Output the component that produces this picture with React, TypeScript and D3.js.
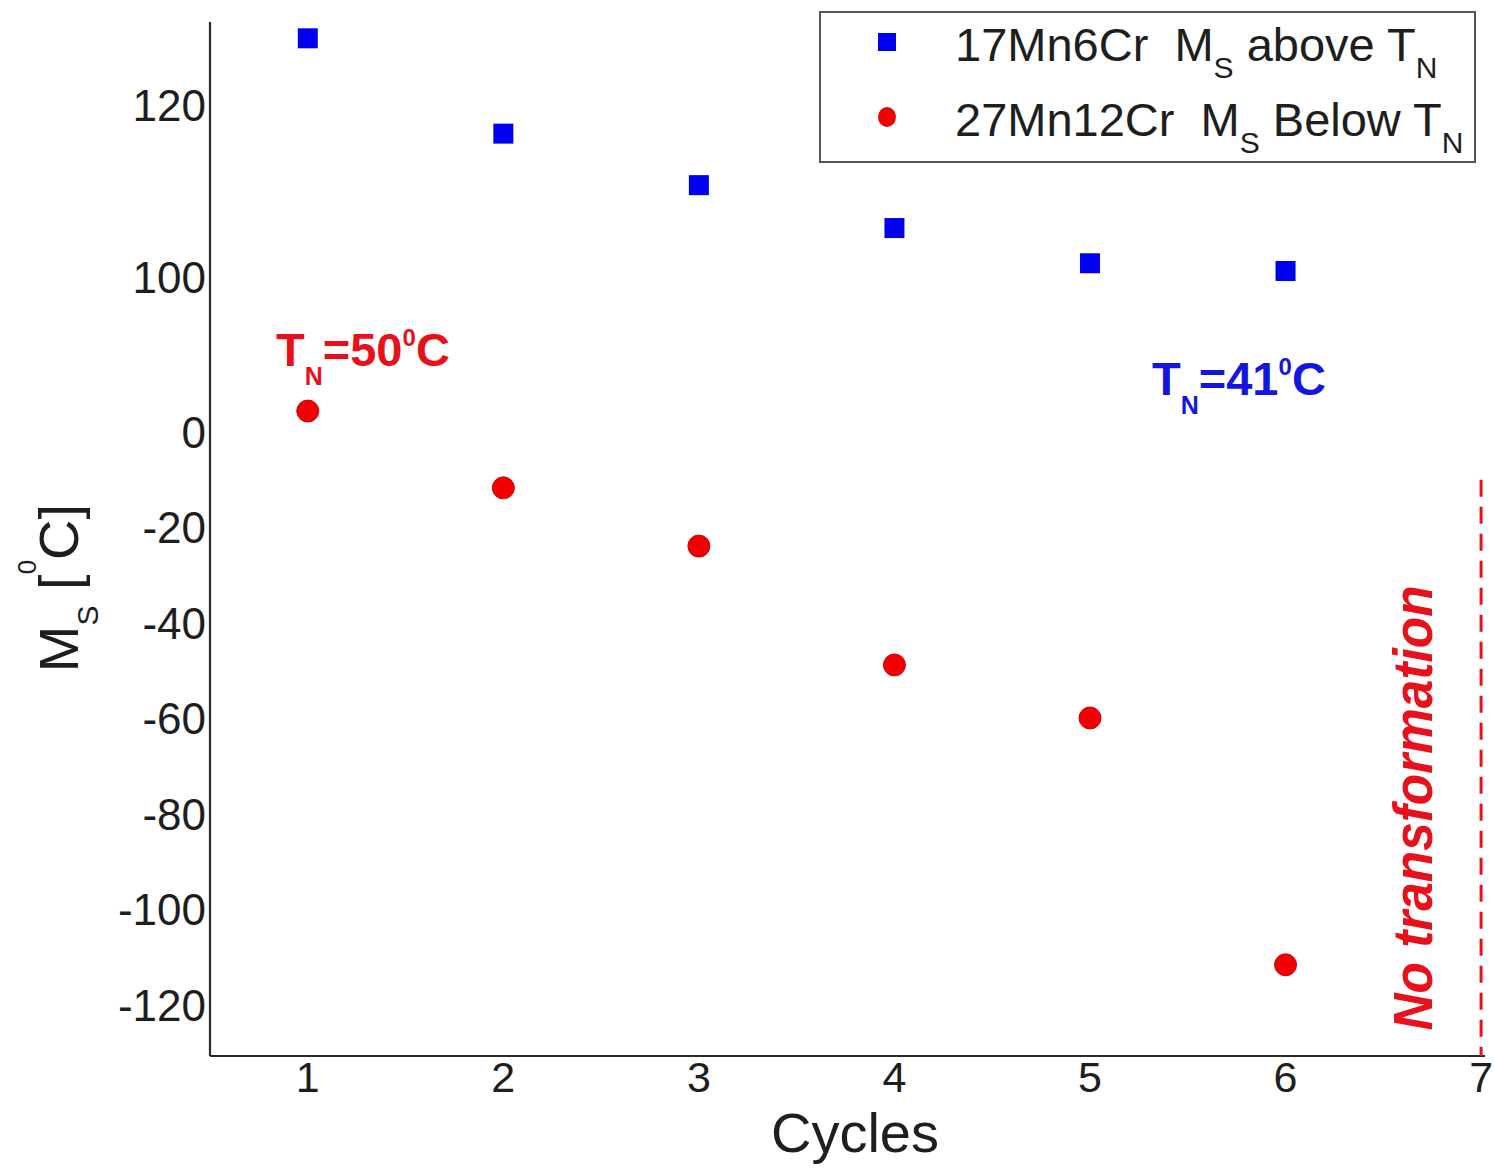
import React from "react";
import * as d3 from "d3";

// ---- data ----
const cycles = [1, 2, 3, 4, 5, 6];
const msAbove17Mn6Cr = [127.8, 116.7, 110.7, 105.7, 101.6, 100.7];
const msBelow27Mn12Cr = [13.5, -11.7, -23.9, -48.8, -59.9, -111.6];
const yTickValues = [120, 100, 0, -20, -40, -60, -80, -100, -120];
const xTickValues = [1, 2, 3, 4, 5, 6, 7];
const noTransformCycle = 7;
const noTransformTop = -10;
const legendLabels = ["17Mn6Cr", "27Mn12Cr"];

const W = 1494;
const H = 1170;
const FONT = "'Liberation Sans', Arial, Helvetica, sans-serif";
const AXIS = "#2a2a2a";

export default function App() {
  const x = d3.scaleLinear().domain([0.5, 7.02]).range([210, 1485]);
  // broken axis: piecewise linear
  const y = d3
    .scaleLinear()
    .domain([-130.7, 0, 100, 129.7])
    .range([1056, 432, 277, 22]);

  const [x0, x1] = x.range();
  const yBottom = y(-130.7);
  const yTop = y(129.7);

  return (
    <svg
      width={W}
      height={H}
      viewBox={`0 0 ${W} ${H}`}
      style={{ position: "absolute", left: 0, top: 0, background: "#fff" }}
      fontFamily={FONT}
    >
      <rect x={0} y={0} width={W} height={H} fill="#fff" />

      {/* axes */}
      <line x1={x0} x2={x0} y1={yTop} y2={yBottom} stroke={AXIS} strokeWidth={2.2} />
      <line x1={x0} x2={x1} y1={yBottom} y2={yBottom} stroke={AXIS} strokeWidth={2.2} />

      {/* y tick labels */}
      {yTickValues.map((v) => (
        <text
          key={"yt" + v}
          x={x0 - 4}
          y={y(v)}
          dy="0.36em"
          textAnchor="end"
          fontSize={44}
          fill="#1e1e1e"
        >
          {v}
        </text>
      ))}

      {/* x tick labels */}
      {xTickValues.map((v) => (
        <text
          key={"xt" + v}
          x={x(v)}
          y={1092}
          textAnchor="middle"
          fontSize={43}
          fill="#1e1e1e"
        >
          {v}
        </text>
      ))}

      {/* axis titles */}
      <text x={855} y={1152} textAnchor="middle" fontSize={56} fill="#1e1e1e">
        Cycles
      </text>
      <g transform="translate(78,588) rotate(-90)">
        <text textAnchor="middle" fontSize={56} fill="#1e1e1e">
          <tspan>M</tspan>
          <tspan fontSize={30} dy={20}>S</tspan>
          <tspan dy={-20}> [</tspan>
          <tspan fontSize={26} dy={-42}>0</tspan>
          <tspan dy={42}>C]</tspan>
        </text>
      </g>

      {/* no transformation dashed line */}
      <line
        x1={x(noTransformCycle)}
        x2={x(noTransformCycle)}
        y1={y(noTransformTop)}
        y2={yBottom}
        stroke="#e8101a"
        strokeWidth={3}
        strokeDasharray="17 10"
      />
      <g transform="translate(1432,808) rotate(-90)">
        <text
          textAnchor="middle"
          fontSize={56}
          fontWeight="bold"
          fontStyle="italic"
          fill="#e8101a"
          textLength={445}
          lengthAdjust="spacingAndGlyphs"
        >
          No transformation
        </text>
      </g>

      {/* series: squares */}
      {cycles.map((c, i) => (
        <rect
          key={"sq" + c}
          x={x(c) - 10}
          y={y(msAbove17Mn6Cr[i]) - 10}
          width={20}
          height={20}
          fill="#0000f0"
        />
      ))}
      {/* series: circles */}
      {cycles.map((c, i) => (
        <circle
          key={"ci" + c}
          cx={x(c)}
          cy={y(msBelow27Mn12Cr[i])}
          r={11}
          fill="#f00000"
          stroke="#d00010"
          strokeWidth={1}
        />
      ))}

      {/* annotations */}
      <text x={276} y={366} fontSize={47} fontWeight="bold" fill="#e8101a">
        <tspan>T</tspan>
        <tspan fontSize={25} dy={19}>N</tspan>
        <tspan dy={-19}>=50</tspan>
        <tspan fontSize={24} dy={-20}>0</tspan>
        <tspan dy={20}>C</tspan>
      </text>
      <text x={1152} y={395} fontSize={47} fontWeight="bold" fill="#1515e0">
        <tspan>T</tspan>
        <tspan fontSize={25} dy={19}>N</tspan>
        <tspan dy={-19}>=41</tspan>
        <tspan fontSize={24} dy={-20}>0</tspan>
        <tspan dy={20}>C</tspan>
      </text>

      {/* legend */}
      <rect x={820} y={12} width={655} height={150} fill="#fff" stroke="#555" strokeWidth={2} />
      <rect x={878} y={33} width={18} height={18} fill="#0000f0" />
      <ellipse cx={887} cy={117} rx={9} ry={10} fill="#f00000" />
      <text x={955} y={61} fontSize={47} fill="#1e1e1e" style={{ whiteSpace: "pre" }}>
        <tspan>{legendLabels[0] + "  M"}</tspan>
        <tspan fontSize={30} dy={17}>S</tspan>
        <tspan dy={-17}>{" above T"}</tspan>
        <tspan fontSize={30} dy={17}>N</tspan>
      </text>
      <text x={955} y={136} fontSize={47} fill="#1e1e1e" style={{ whiteSpace: "pre" }}>
        <tspan>{legendLabels[1] + "  M"}</tspan>
        <tspan fontSize={30} dy={17}>S</tspan>
        <tspan dy={-17}>{" Below T"}</tspan>
        <tspan fontSize={30} dy={17}>N</tspan>
      </text>
    </svg>
  );
}
